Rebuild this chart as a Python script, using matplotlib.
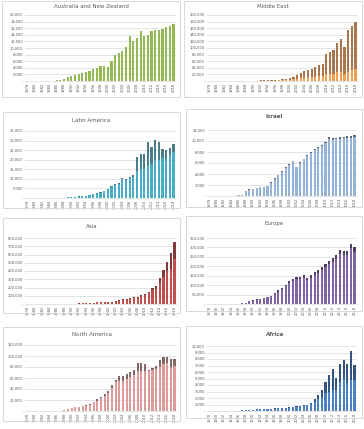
import matplotlib
matplotlib.use("Agg")
import matplotlib.pyplot as plt
from matplotlib.patches import Rectangle
from matplotlib.ticker import FuncFormatter, MultipleLocator
import numpy as np

# ---------------------------------------------------------
# Datos (1978 - 2018), total de cada barra y segmento inferior
# ---------------------------------------------------------
years = list(range(1978, 2019))

aus_total = [20, 30, 40, 50, 60, 80, 100, 150, 250,
             400, 700, 1300, 1600, 1900, 2100, 2400, 2800, 3100, 3600, 4000,
             4500, 4500, 4200, 6000, 7800, 8400, 9000, 10400, 13700, 12200,
             13000, 15000, 13700, 14000, 15100, 15400, 15600, 15800, 16300,
             16800, 17300]
aus_low = aus_total

me_total = [300, 350, 400, 450, 500, 550, 600, 700, 800, 900, 1000, 1100,
            1200, 1400, 1600, 1800,
            2000, 2500, 3000, 4000, 5000, 7000, 10000, 13000, 17000, 24000,
            30000, 33000, 36000, 41000, 49000, 53000, 82000, 87000, 95000,
            114000, 126000, 104000, 154000, 167000, 178000]
me_low = [150, 170, 200, 220, 250, 270, 300, 350, 400, 450, 500, 550,
          600, 700, 800, 900,
          1000, 1200, 1500, 2000, 2500, 3000, 4000, 5000, 6000, 8000,
          10000, 11000, 12000, 13000, 15000, 16000, 20000, 21000, 22000,
          26000, 28000, 20000, 27000, 33000, 37000]

la_total = [100, 100, 110, 120, 130, 140, 150, 170, 200, 230, 260, 300,
            400, 600, 800, 1000, 1300, 1700, 2100, 2500, 2900, 3800, 4800,
            6200, 7500, 8000, 10500, 10000, 11000, 12000, 21500, 23000,
            22800, 29000, 26500, 30500, 29000, 25500, 25000, 26000, 28000]
la_low = [95, 95, 105, 115, 125, 135, 145, 160, 190, 220, 250, 290,
          380, 570, 760, 950, 1230, 1600, 2000, 2350, 2700, 3600, 4500,
          5800, 7000, 7500, 9800, 9400, 10300, 11200, 14000, 15000,
          15000, 17000, 18000, 20000, 20000, 21000, 20500, 22500, 24000]

isr_total = [20, 20, 25, 30, 35, 40, 50, 70, 100, 200,
             1000, 1200, 1300, 1400, 1600, 1700, 1800, 2500, 3200, 3900,
             4500, 5200, 5800, 6400, 5300, 6100, 6800, 7500, 8000, 8500,
             8900, 9200, 9800, 10700, 10500, 10600, 10700, 10800, 10900,
             11000, 11100]
isr_low = [20, 20, 25, 30, 35, 40, 50, 70, 100, 200,
           970, 1170, 1270, 1370, 1560, 1660, 1760, 2440, 3140, 3830,
           4420, 5100, 5700, 6280, 5200, 5980, 6680, 7360, 7850, 8340,
           8730, 9020, 9600, 10450, 10250, 10330, 10400, 10500, 10550,
           10600, 10650]

asia_total = [500, 600, 700, 800, 900, 1000, 1200, 1500, 2000, 2500, 3000,
              3500, 4000, 5000, 7000, 9000, 11000, 13000, 15000, 25000,
              30000, 30000, 25000, 30000, 35000, 50000, 55000, 65000, 75000,
              85000, 85000, 115000, 125000, 150000, 200000, 215000, 320000,
              415000, 510000, 620000, 750000]
asia_low = [400, 480, 560, 640, 720, 800, 960, 1200, 1600, 2000, 2400,
            2800, 3200, 4000, 5600, 7200, 8800, 10400, 12000, 20000,
            24000, 24000, 20000, 24000, 28000, 40000, 44000, 52000, 60000,
            68000, 68000, 95000, 105000, 130000, 170000, 180000, 250000,
            330000, 400000, 420000, 540000]

eu_total = [500, 600, 700, 800, 1000, 1200, 1500, 2000, 2500, 3500, 5000,
            15000, 20000, 25000, 28000, 33000, 38000, 45000, 58000, 72000,
            85000, 102000, 120000, 135000, 145000, 145000, 153000, 140000,
            153000, 168000, 182000, 195000, 212000, 228000, 245000, 260000,
            287000, 280000, 280000, 320000, 300000]
eu_low = [460, 550, 640, 740, 920, 1100, 1380, 1840, 2300, 3200, 4600,
          14000, 18500, 23000, 26000, 30500, 35000, 41500, 53000, 66000,
          78000, 94000, 110000, 124000, 133000, 133000, 140000, 128000,
          140000, 154000, 167000, 179000, 195000, 210000, 225000, 239000,
          264000, 258000, 258000, 295000, 276000]

na_total = [100, 100, 150, 150, 200, 200, 250, 300, 400, 600,
            1500, 4000, 6000, 7000, 8000, 9500, 11000, 12500, 17000, 21000,
            26000, 31000, 37000, 47000, 57000, 63000, 63000, 67000, 71000,
            75000, 87000, 88000, 86000, 75000, 78000, 82000, 92000, 99000,
            99000, 95000, 95000]
na_low = [95, 95, 140, 140, 190, 190, 240, 285, 380, 570,
          1400, 3700, 5500, 6400, 7300, 8700, 10000, 11400, 15500, 19000,
          23500, 28000, 33500, 42500, 52000, 55000, 55000, 58000, 62000,
          66000, 72000, 72000, 72000, 72000, 74000, 77000, 80000, 85000,
          87000, 80000, 82000]

afr_total = [30, 30, 40, 40, 50, 50, 60, 60, 70, 80, 100,
             200, 220, 250, 280, 300, 320, 350, 400, 420, 450, 500, 550,
             600, 700, 800, 900, 1000, 1200, 1800, 2500, 3300, 4500, 5500,
             6400, 5100, 7200, 7800, 7300, 9300, 7100]
afr_low = [30, 30, 40, 40, 50, 50, 60, 60, 70, 80, 100,
           190, 210, 235, 265, 285, 300, 330, 375, 395, 420, 470, 515,
           560, 650, 740, 830, 920, 1100, 1400, 1900, 2200, 2700, 3000,
           3300, 3200, 4500, 4900, 4300, 4800, 4700]

# ---------------------------------------------------------
# Paneles: (titulo, total, inferior, color bajo, color alto, ymax, paso,
#           caja del panel px (x0, y0, x1, y1), area de trazado px, estilo)
# ---------------------------------------------------------
panels = [
    ("Australia and New Zealand", aus_total, aus_low, "#93b954", "#6f8c3e",
     20000, 2000, (2, 1, 180, 97), (25, 15, 176, 81), "normal"),
    ("Middle East", me_total, me_low, "#f0a050", "#a9774d",
     200000, 20000, (184, 1, 362, 97), (207, 15, 358, 81), "normal"),
    ("Latin America", la_total, la_low, "#4bacc6", "#4b7c89",
     35000, 5000, (3, 112, 180, 208), (25, 131, 176, 198), "normal"),
    ("Israel", isr_total, isr_low, "#95b3d7", "#5a6576",
     12000, 2000, (186, 109, 362, 207), (207, 130, 357, 196), "bold"),
    ("Asia", asia_total, asia_low, "#c0504d", "#7e3b39",
     800000, 100000, (3, 218, 180, 313), (25, 238, 177, 304), "normal"),
    ("Europe", eu_total, eu_low, "#8064a2", "#4e3f62",
     350000, 50000, (186, 216, 362, 311), (207, 238, 357, 304), "normal"),
    ("North America", na_total, na_low, "#dd9b9a", "#836868",
     120000, 20000, (3, 327, 180, 421), (25, 345, 177, 411), "normal"),
    ("Africa", afr_total, afr_low, "#4a80c4", "#35537f",
     10000, 1000, (186, 326, 362, 418), (207, 346, 357, 411), "bolditalic"),
]

W, H = 364, 429
fig = plt.figure(figsize=(W / 100, H / 100), dpi=100)
fig.patch.set_facecolor("white")

def fmt(v, pos):
    return "-" if v == 0 else f"{v:,.0f}"

x = np.arange(len(years))
grid_c = "#d9d9d9"
text_c = "#595959"

for title, total, low, c_low, c_high, ymax, step, box, area, style in panels:
    # borde del panel (estilo Excel)
    bx0, by0, bx1, by1 = box
    fig.patches.append(Rectangle((bx0 / W, 1 - by1 / H), (bx1 - bx0) / W,
                                 (by1 - by0) / H, transform=fig.transFigure,
                                 fill=False, edgecolor=grid_c, lw=0.7))

    ax0, ay0, ax1, ay1 = area
    ax = fig.add_axes([ax0 / W, 1 - ay1 / H, (ax1 - ax0) / W, (ay1 - ay0) / H])

    total = np.array(total)
    low = np.array(low)
    ax.bar(x, low, width=0.6, color=c_low, zorder=2)
    ax.bar(x, total - low, bottom=low, width=0.6, color=c_high, zorder=2)

    ax.set_xlim(-0.7, len(years) - 0.3)
    ax.set_ylim(0, ymax)
    ax.yaxis.set_major_locator(MultipleLocator(step))
    ax.yaxis.set_major_formatter(FuncFormatter(fmt))
    ax.grid(axis="y", color=grid_c, lw=0.5, zorder=0)

    ax.set_xticks(x[::2])
    ax.set_xticklabels([str(y) for y in years[::2]], rotation=90)
    ax.tick_params(axis="both", length=0, labelsize=2.6, colors=text_c, pad=1.5)

    for side in ["top", "right", "left"]:
        ax.spines[side].set_visible(False)
    ax.spines["bottom"].set_color(grid_c)
    ax.spines["bottom"].set_linewidth(0.5)

    weight = "bold" if "bold" in style else "normal"
    fstyle = "italic" if "italic" in style else "normal"
    cx = (bx0 + bx1) / 2
    ty = by0 + 8 if title not in ("Australia and New Zealand", "Middle East") else 6
    fig.text(cx / W, 1 - ty / H, title, ha="center", va="center",
             fontsize=4.0, color=text_c, fontweight=weight, fontstyle=fstyle)

fig.savefig("out.png", dpi=100)
